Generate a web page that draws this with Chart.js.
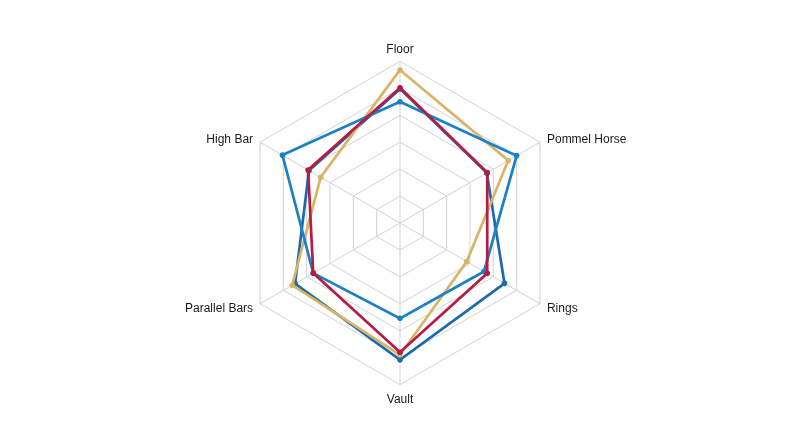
<!DOCTYPE html>
<html>
<head>
<meta charset="utf-8">
<script src="https://cdn.jsdelivr.net/npm/chart.js@4"></script>
<style>
  html, body { margin: 0; padding: 0; background: #ffffff; }
  #wrap { width: 800px; height: 447px; }
</style>
</head>
<body>
<div id="wrap"><canvas id="graficoRadar" width="800" height="447"></canvas></div>
<script>
// apparatus (axes)
const aparelhos = ["Floor", "Pommel Horse", "Rings", "Vault", "Parallel Bars", "High Bar"];

// scores per athlete
const vermelho   = [14.51, 13.87, 13.87, 14.40, 13.86, 13.97];
const dourado    = [14.84, 14.32, 13.43, 14.45, 14.31, 13.70];
const azulClaro  = [14.25, 14.50, 13.80, 13.77, 13.86, 14.52];
const azulEscuro = [14.49, 13.86, 14.24, 14.54, 14.25, 13.95];

// radial scale
const escalaMin = 12;
const escalaMax = 15;
const escalaPasso = 0.5;

const fonteRotulo = "12px 'Liberation Sans'";

function serie(nome, valores, cor){
    return {
        label: nome,
        data: valores,
        borderColor: cor,
        backgroundColor: cor,
        pointBackgroundColor: cor,
        pointBorderColor: cor,
        pointRadius: 2.8,
        pointBorderWidth: 0,
        borderWidth: 2.7,
        fill: false
    };
}

// labels centred on the vertex (Chart.js puts side labels above/below it)
const rotulos = {
    id: "rotulos",
    afterDraw(chart){
        const r = chart.scales.r;
        const ctx = chart.ctx;
        ctx.save();
        ctx.font = fonteRotulo;
        ctx.fillStyle = "#1a1a1a";
        aparelhos.forEach((nome, i) => {
            const ang = r.getIndexAngle(i) - Math.PI / 2;
            const p = r.getPointPosition(i, r.drawingArea);
            const c = Math.cos(ang), s = Math.sin(ang);
            let x = p.x, y = p.y;
            if (Math.abs(c) < 0.01) {
                ctx.textAlign = "center";
                if (s < 0) { ctx.textBaseline = "alphabetic"; y -= 8; }
                else { ctx.textBaseline = "top"; y += 9; }
            } else {
                ctx.textAlign = c > 0 ? "left" : "right";
                ctx.textBaseline = "middle";
                x += c > 0 ? 7 : -7;
                y += s < 0 ? -3 : 5;
            }
            ctx.fillText(nome, x, y);
        });
        ctx.restore();
    }
};

new Chart(
    document.getElementById("graficoRadar"),
    {
    type: "radar",
    data: {
        labels: aparelhos,
        datasets: [
            serie("A", vermelho, "#b51c44"),
            serie("B", azulClaro, "#1c80c4"),
            serie("C", dourado, "#d8b468"),
            serie("D", azulEscuro, "#1a6aae")
        ]
    },
    options: {
        responsive: false,
        animation: false,
        layout: { padding: { top: 41, bottom: 42 } },
        plugins: {
            legend: { display: false },
            tooltip: { enabled: false }
        },
        scales: {
            r: {
                min: escalaMin,
                max: escalaMax,
                ticks: { stepSize: escalaPasso, display: false },
                grid: { color: "#d2d2d2", lineWidth: 1 },
                angleLines: { color: "#d2d2d2", lineWidth: 1 },
                pointLabels: {
                    color: "rgba(0,0,0,0)",
                    padding: 6,
                    font: { family: "Liberation Sans", size: 12 }
                }
            }
        }
    },
    plugins: [rotulos]
    }
);
</script>
</body>
</html>
